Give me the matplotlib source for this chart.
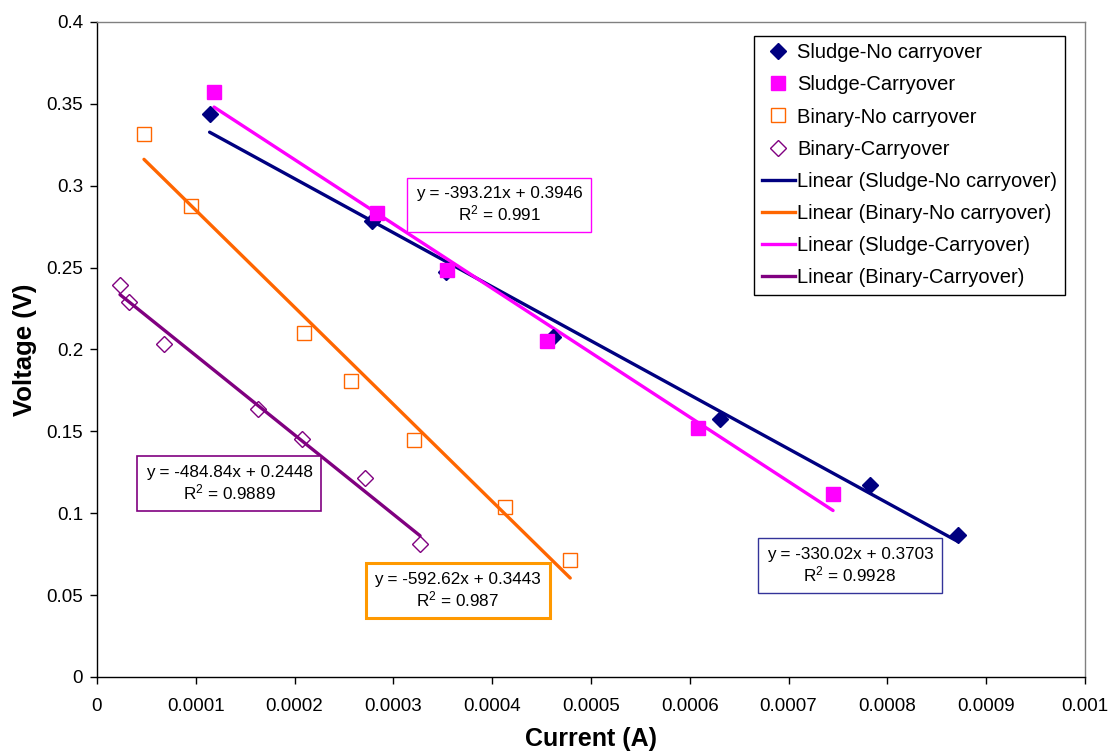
import matplotlib.pyplot as plt
from matplotlib.lines import Line2D
import numpy as np

plt.rcParams["font.family"] = ["Liberation Sans", "DejaVu Sans"]
plt.rcParams["mathtext.fontset"] = "custom"
plt.rcParams["mathtext.rm"] = "Liberation Sans"
plt.rcParams["mathtext.it"] = "Liberation Sans"

# measured current (A) and voltage (V) for each run
sludge_nc_x = [0.000114, 0.000278, 0.000353, 0.0004615, 0.000631, 0.000782, 0.000871]
sludge_nc_y = [0.3435, 0.2785, 0.2475, 0.2076, 0.1578, 0.1173, 0.0867]

sludge_c_x = [0.0001185, 0.0002835, 0.000354, 0.0004555, 0.000608, 0.000745]
sludge_c_y = [0.3573, 0.2832, 0.2485, 0.2052, 0.1522, 0.1117]

binary_nc_x = [0.0000476, 0.0000951, 0.0002095, 0.000257, 0.000321, 0.000413, 0.000479]
binary_nc_y = [0.3315, 0.2875, 0.2100, 0.1805, 0.1447, 0.1035, 0.0715]

binary_c_x = [0.0000233, 0.0000324, 0.0000678, 0.000163, 0.0002075, 0.000271, 0.000327]
binary_c_y = [0.2395, 0.2290, 0.2033, 0.1637, 0.1453, 0.1218, 0.0815]

# linear fits (slope, intercept, R^2)
fit_sludge_nc = (-330.02, 0.3703, 0.9928)
fit_sludge_c = (-393.21, 0.3946, 0.991)
fit_binary_nc = (-592.62, 0.3443, 0.987)
fit_binary_c = (-484.84, 0.2448, 0.9889)

x_ticks = np.round(np.arange(0, 0.00101, 0.0001), 4)
x_tick_labels = ["0", "0.0001", "0.0002", "0.0003", "0.0004", "0.0005",
                 "0.0006", "0.0007", "0.0008", "0.0009", "0.001"]
y_ticks = np.round(np.arange(0, 0.401, 0.05), 2)
y_tick_labels = ["0", "0.05", "0.1", "0.15", "0.2", "0.25", "0.3", "0.35", "0.4"]

navy = "#000080"
magenta = "#FF00FF"
orange = "#FF6600"
purple = "#800080"

fig = plt.figure(figsize=(11.12, 7.56), dpi=100)
ax = fig.add_axes([0.0872, 0.1045, 0.8885, 0.8665])


def trend(xs, fit, color):
    xx = np.array([min(xs), max(xs)])
    ax.plot(xx, fit[0] * xx + fit[1], color=color, lw=2.4, solid_capstyle="round", zorder=2)


trend(sludge_nc_x, fit_sludge_nc, navy)
trend(binary_nc_x, fit_binary_nc, orange)
trend(sludge_c_x, fit_sludge_c, magenta)
trend(binary_c_x, fit_binary_c, purple)

ax.plot(sludge_nc_x, sludge_nc_y, ls="none", marker="D", ms=8.5, color=navy, zorder=3)
ax.plot(sludge_c_x, sludge_c_y, ls="none", marker="s", ms=10, color=magenta, zorder=3)
ax.plot(binary_nc_x, binary_nc_y, ls="none", marker="s", ms=10, mfc="none",
        mec=orange, mew=1.0, zorder=3)
ax.plot(binary_c_x, binary_c_y, ls="none", marker="D", ms=8.5, mfc="none",
        mec=purple, mew=1.0, zorder=3)


def eq_box(x, y, fit, edge, lw):
    ax.text(x, y, f"y = {fit[0]}x + {fit[1]}\nR$^2$ = {fit[2]}", ha="center", va="center",
            fontsize=12.3, linespacing=1.15, zorder=4,
            bbox=dict(boxstyle="square,pad=0.5", fc="white", ec=edge, lw=lw))


eq_box(0.000407, 0.2882, fit_sludge_c, magenta, 1.0)
eq_box(0.000134, 0.1182, fit_binary_c, purple, 1.2)
eq_box(0.000365, 0.0528, fit_binary_nc, "#FF9900", 2.2)
eq_box(0.000762, 0.0681, fit_sludge_nc, "#333399", 1.0)

ax.set_xlim(0, 0.001)
ax.set_ylim(0, 0.4)
ax.set_xticks(x_ticks)
ax.set_xticklabels(x_tick_labels)
ax.set_yticks(y_ticks)
ax.set_yticklabels(y_tick_labels)
ax.tick_params(direction="out", length=5, width=1, labelsize=13.5, pad=5)
ax.tick_params(axis="x", pad=10)
for side in ["top", "right"]:
    ax.spines[side].set_color("#808080")
    ax.spines[side].set_linewidth(1.0)
for side in ["left", "bottom"]:
    ax.spines[side].set_linewidth(1.0)

ax.set_xlabel("Current (A)", fontsize=18, fontweight="bold", labelpad=9)
ax.set_ylabel("Voltage (V)", fontsize=18.5, fontweight="bold", labelpad=7)

handles = [
    Line2D([], [], ls="none", marker="D", ms=8.5, color=navy),
    Line2D([], [], ls="none", marker="s", ms=10, color=magenta),
    Line2D([], [], ls="none", marker="s", ms=10, mfc="none", mec=orange, mew=1.0),
    Line2D([], [], ls="none", marker="D", ms=8.5, mfc="none", mec=purple, mew=1.0),
    Line2D([], [], color=navy, lw=2.4),
    Line2D([], [], color=orange, lw=2.4),
    Line2D([], [], color=magenta, lw=2.4),
    Line2D([], [], color=purple, lw=2.4),
]
labels = ["Sludge-No carryover", "Sludge-Carryover", "Binary-No carryover", "Binary-Carryover",
          "Linear (Sludge-No carryover)", "Linear (Binary-No carryover)",
          "Linear (Sludge-Carryover)", "Linear (Binary-Carryover)"]
leg = ax.legend(handles, labels, loc="upper left", bbox_to_anchor=(0.665, 0.979),
                fontsize=14.5, frameon=True, fancybox=False, edgecolor="black",
                framealpha=1, borderpad=0.38, labelspacing=0.65, handlelength=1.65,
                handletextpad=0.1, borderaxespad=0)
leg.get_frame().set_linewidth(1.0)

fig.savefig("out.png", dpi=100)
